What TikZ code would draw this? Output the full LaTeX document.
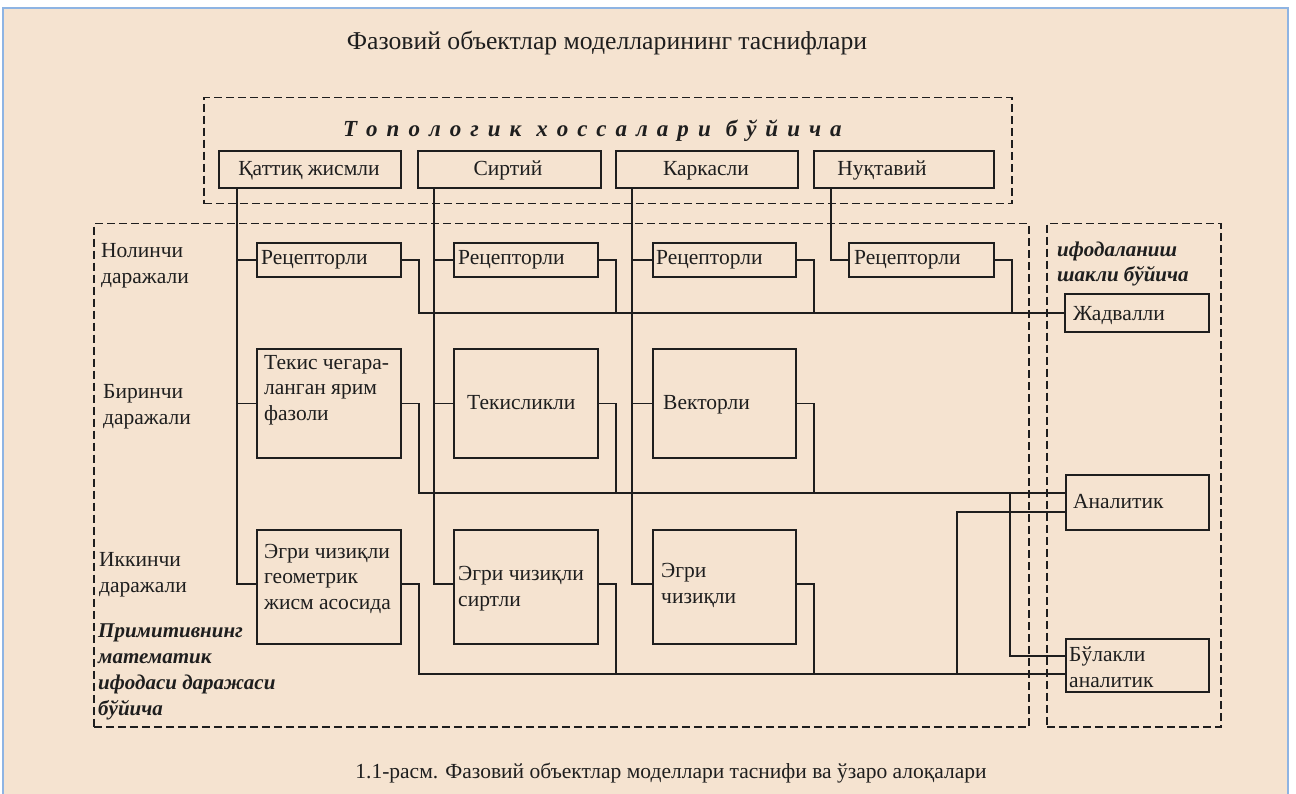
\documentclass[tikz,border=0pt]{standalone}
\usepackage{fontspec}
\setmainfont{Liberation Serif}
\definecolor{bg}{HTML}{F5E3D0}
\definecolor{frameblue}{HTML}{8EB4E3}
\definecolor{ink}{HTML}{1E1E1E}
\newcommand\LSkern{\kern 9pt}
\def\LS#1{\ifx#1\relax\else#1\LSkern\expandafter\LS\fi}
\begin{document}
\begin{tikzpicture}[x=1pt,y=-1pt,
  box/.style={draw=ink, line width=1.9pt, rectangle, inner sep=0pt, anchor=north west},
  conn/.style={draw=ink, line width=1.5pt},
  dframe/.style={draw=ink, line width=1.5pt, dash pattern=on 8pt off 4pt, rectangle, inner sep=0pt, anchor=north west},
  lbl/.style={font=\fontsize{21.5}{26}\selectfont, inner sep=0pt, anchor=base west, align=left, text=ink},
  blbl/.style={lbl, font=\fontsize{21}{25.7}\selectfont\bfseries\itshape},
]
\useasboundingbox (0,0) rectangle (1296,794);
\fill[white] (0,0) rectangle (1296,794);
\draw[fill=bg, draw=frameblue, line width=2pt] (3,8) rectangle (1288,820);

% title
\node[lbl, anchor=base, font=\fontsize{25.7}{30}\selectfont] (title) at (607,50) {Фазовий объектлар моделларининг таснифлари};

% frames
\node[dframe, minimum width=808, minimum height=106] (topframe) at (203,97) {};
\node[dframe, minimum width=935, minimum height=503] (levelframe) at (93,223) {};
\node[dframe, minimum width=174, minimum height=503] (formframe) at (1046,223) {};

\node[blbl, font=\fontsize{23}{28}\selectfont\bfseries\itshape] (topohead) at (343,137)
  {\LS Топологик\relax\kern 6pt\LS хоссалари\relax\kern 6pt\LS бўйича\relax};

% top row boxes
\node[box, minimum width=182, minimum height=37] (tq) at (218,150) {};
\node[box, minimum width=183, minimum height=37] (sr) at (417,150) {};
\node[box, minimum width=182, minimum height=37] (kr) at (615,150) {};
\node[box, minimum width=180, minimum height=37] (nq) at (813,150) {};
\node[lbl, anchor=base] (tqt) at (309,176) {Қаттиқ жисмли};
\node[lbl, anchor=base] (srt) at (508,176) {Сиртий};
\node[lbl, anchor=base] (krt) at (706,176) {Каркасли};
\node[lbl, anchor=base] (nqt) at (882,176) {Нуқтавий};

% level labels (anchored at the last line's baseline)
\node[lbl] (l0) at (101,284) {Нолинчи\\даражали};
\node[lbl] (l1) at (103,424) {Биринчи\\даражали};
\node[lbl] (l2) at (99,592) {Иккинчи\\даражали};
\node[blbl] (lvlhead) at (98,715) {Примитивнинг\\математик\\ифодаси даражаси\\бўйича};
\node[blbl, font=\fontsize{21}{25}\selectfont\bfseries\itshape] (formhead) at (1057,282) {ифодаланиш\\шакли бўйича};

% row 0
\node[box, minimum width=144, minimum height=34] (r1) at (256,242) {};
\node[box, minimum width=144, minimum height=34] (r2) at (453,242) {};
\node[box, minimum width=143, minimum height=34] (r3) at (652,242) {};
\node[box, minimum width=145, minimum height=34] (r4) at (848,242) {};
\node[lbl] (r1t) at (261,265) {Рецепторли};
\node[lbl] (r2t) at (458,265) {Рецепторли};
\node[lbl] (r3t) at (656,265) {Рецепторли};
\node[lbl] (r4t) at (854,265) {Рецепторли};

% row 1
\node[box, minimum width=144, minimum height=109] (t1) at (256,348) {};
\node[box, minimum width=144, minimum height=109] (t2) at (453,348) {};
\node[box, minimum width=143, minimum height=109] (t3) at (652,348) {};
\node[lbl, font=\fontsize{21.5}{25.5}\selectfont] (t1t) at (264,420) {Текис чегара-\\ланган ярим\\фазоли};
\node[lbl] (t2t) at (467,409) {Текисликли};
\node[lbl] (t3t) at (663,409) {Векторли};

% row 2
\node[box, minimum width=144, minimum height=114] (e1) at (256,529) {};
\node[box, minimum width=144, minimum height=114] (e2) at (453,529) {};
\node[box, minimum width=143, minimum height=114] (e3) at (652,529) {};
\node[lbl, font=\fontsize{21.5}{25.5}\selectfont] (e1t) at (264,609) {Эгри чизиқли\\геометрик\\жисм асосида};
\node[lbl, font=\fontsize{21.5}{25.5}\selectfont] (e2t) at (458,606) {Эгри чизиқли\\сиртли};
\node[lbl, font=\fontsize{21.5}{25.5}\selectfont] (e3t) at (661,603) {Эгри\\чизиқли};

% right column
\node[box, minimum width=144, minimum height=38] (jad) at (1064,293) {};
\node[box, minimum width=143, minimum height=55] (an) at (1065,474) {};
\node[box, minimum width=143, minimum height=53] (bl) at (1065,638) {};
\node[lbl] (jadt) at (1073,320) {Жадвалли};
\node[lbl] (ant) at (1073,508) {Аналитик};
\node[lbl, font=\fontsize{21.5}{26}\selectfont] (blt) at (1069,687) {Бўлакли\\аналитик};

% vertical trunks from top row
\coordinate (v1) at ([xshift=19pt]tq.south west);
\coordinate (v2) at ([xshift=17pt]sr.south west);
\coordinate (v3) at ([xshift=17pt]kr.south west);
\coordinate (v4) at ([xshift=18pt]nq.south west);
\coordinate (e1in) at ([yshift=3pt]e1.west);
\coordinate (e2in) at ([yshift=3pt]e2.west);
\coordinate (e3in) at ([yshift=3pt]e3.west);
\draw[conn] (v1) |- (e1in);
\draw[conn] (v2) |- (e2in);
\draw[conn] (v3) |- (e3in);
\draw[conn] (v4) |- (r4.west);
\foreach \b/\v in {r1/v1,t1/v1,r2/v2,t2/v2,r3/v3,t3/v3}{
  \draw[conn] (\b.west) -- (\b.west -| \v);
}

% bus connectors
\coordinate (anA) at ([yshift=9.5pt]an.west);
\coordinate (anB) at ([yshift=-9.5pt]an.west);
\coordinate (blA) at ([yshift=9.5pt]bl.west);
\coordinate (blB) at ([yshift=-8.5pt]bl.west);
\foreach \b in {r1,r2,r3,r4}{
  \draw[conn] (\b.east) -- ++(17,0) |- (jad.west);
}
\foreach \b in {t1,t2,t3}{
  \draw[conn] (\b.east) -- ++(17,0) |- (anA);
}
\foreach \b in {e1,e2,e3}{
  \draw[conn] ([yshift=3pt]\b.east) -- ++(17,0) |- (blB);
}
\draw[conn] ([xshift=-55pt]anA) |- (blA);
\draw[conn] ([xshift=-108pt]blB) |- (anB);

% caption
\node[lbl, anchor=base, font=\fontsize{21.5}{26}\selectfont] (caption) at (671,778) {1.1-расм. Фазовий объектлар моделлари таснифи ва ўзаро алоқалари};
\end{tikzpicture}
\end{document}
